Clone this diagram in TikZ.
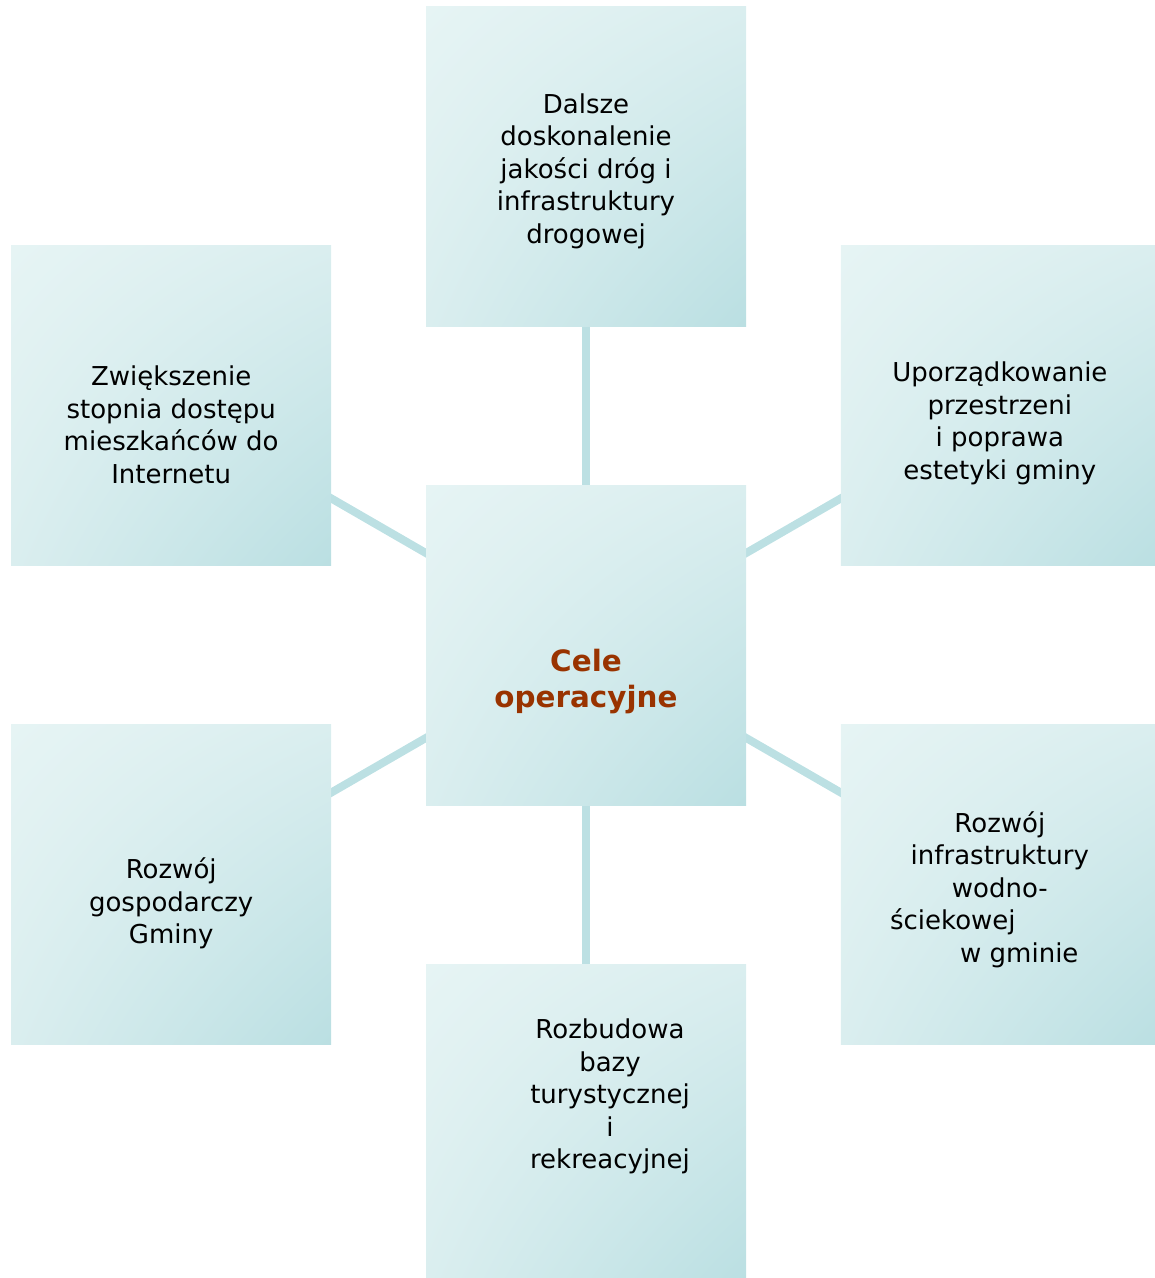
\documentclass[tikz,border=0pt]{standalone}
\usepackage{fontspec}
\setmainfont{DejaVu Sans}
\usetikzlibrary{backgrounds,shadings}
\definecolor{boxLight}{HTML}{E6F4F4}
\definecolor{boxMid}{HTML}{DAEEEF}
\definecolor{boxDark}{HTML}{BADFE2}
\definecolor{linkColor}{HTML}{BCE0E3}
\definecolor{hubColor}{HTML}{993300}
\newcommand\boxSize{160pt}
\newcommand\armLen{479}
\newcommand\hubX{586}
\newcommand\hubY{632.5}
\newcommand\goalFont{\fontsize{13pt}{16.25pt}\selectfont}
\newcommand\hubFont{\fontsize{14.7pt}{18pt}\selectfont\bfseries}

\tikzset{
  goalbox/.style={rectangle, minimum size=\boxSize, inner sep=0pt,
    upper left=boxLight, upper right=boxMid, lower left=boxMid, lower right=boxDark},
  goaltext/.style={align=center, font=\goalFont, inner sep=0pt},
  hubtext/.style={align=center, font=\hubFont, text=hubColor, inner sep=0pt},
  link/.style={draw=linkColor, line width=4pt},
}

\begin{document}
\begin{tikzpicture}[x=0.5pt,y=0.5pt]
    \useasboundingbox (0,0) rectangle (1155,1278);

    % the hub and the six goals round it
    \node[goalbox] (hub) at (\hubX,\hubY) {};
    \foreach \goal/\ang in {top/90, ru/30, rd/-30, bot/-90, ld/210, lu/150}{
      \node[goalbox] (\goal) at ([shift={(\ang:\armLen)}]hub.center) {};
    }

    % LINKS
    \begin{scope}[on background layer]
      \foreach \goal in {top,ru,rd,bot,ld,lu}{
        \draw[link] (hub.center) -- (\goal.center);
      }
    \end{scope}

    % TEXTS
    \node[hubtext] (hubText) at ([shift={(0,-36)}]hub.center) {Cele\\operacyjne};
    \node[goaltext] (topText) at ([shift={(0,-4.5)}]top.center) {Dalsze\\doskonalenie\\jakości dróg i\\infrastruktury\\drogowej};
    \node[goaltext] (ruText) at ([shift={(-1,-17.5)}]ru.center) {Uporządkowanie\\przestrzeni\\i poprawa\\estetyki gminy};
    \node[goaltext] (rdText) at ([shift={(-1,-4.5)}]rd.center) {Rozwój\\infrastruktury\\wodno-\\ściekowej\hspace*{47pt}\mbox{}\\\hspace*{19.5pt}w gminie};
    \node[goaltext] (botText) at ([shift={(24,28)}]bot.center) {Rozbudowa\\bazy\\turystycznej\\i\\rekreacyjnej};
    \node[goaltext] (ldText) at ([shift={(0,-18.5)}]ld.center) {Rozwój\\gospodarczy\\Gminy};
    \node[goaltext] (luText) at ([shift={(0,-19)}]lu.center) {Zwiększenie\\stopnia dostępu\\mieszkańców do\\Internetu};

\end{tikzpicture}
\end{document}
